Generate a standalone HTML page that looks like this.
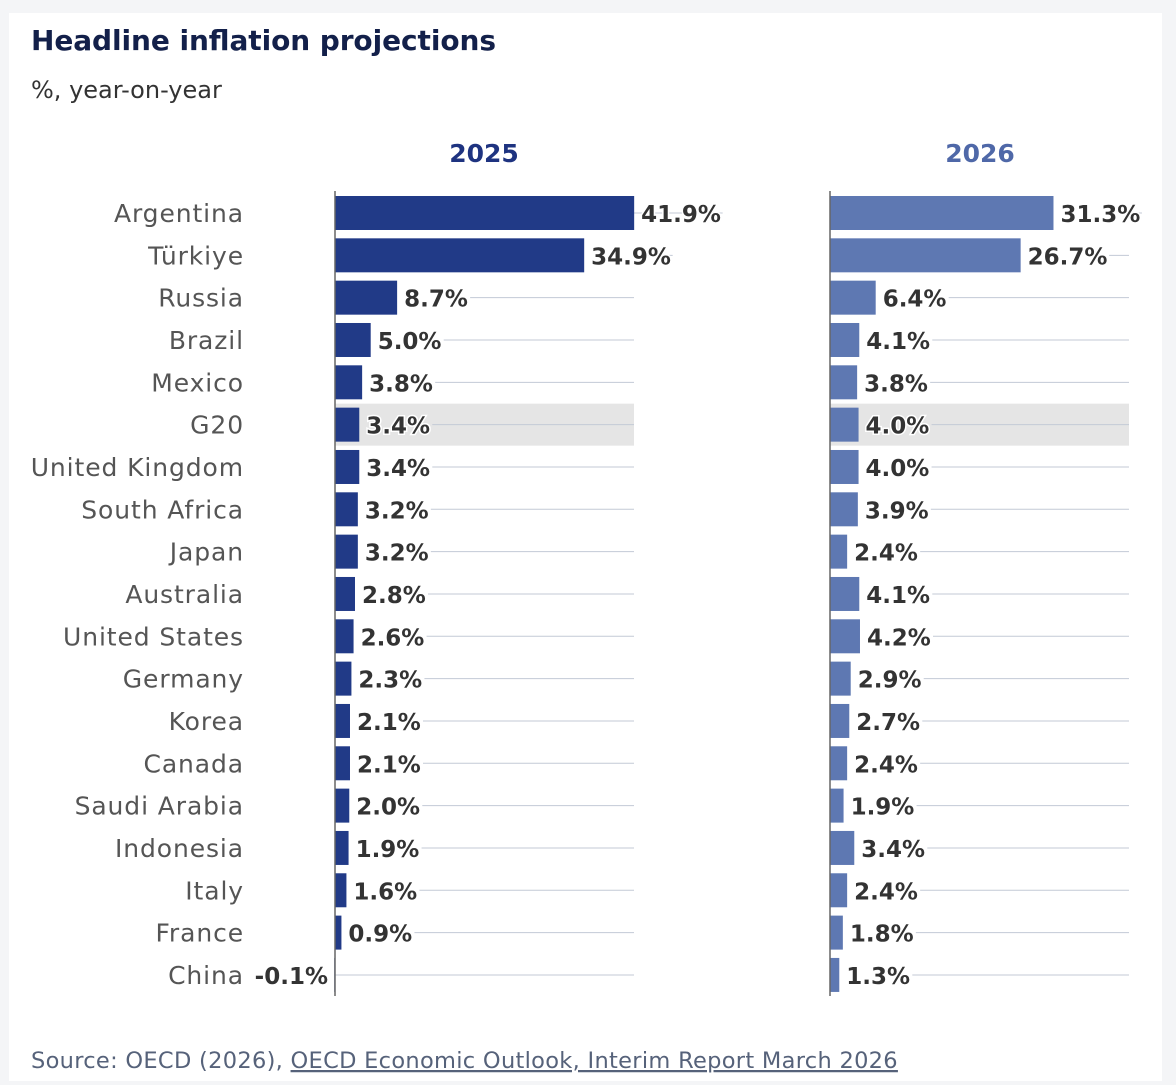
<!DOCTYPE html>
<html><head><meta charset="utf-8"><style>
body{margin:0;background:#f4f5f7;font-family:"DejaVu Sans","Liberation Sans",sans-serif;}
#card{position:absolute;left:9px;top:13px;width:1153px;height:1068px;background:#fff;}
svg text{font-family:"DejaVu Sans","Liberation Sans",sans-serif;}
</style></head><body>
<div id="card"></div>
<svg id="chart" width="1176" height="1085" style="position:absolute;left:0;top:0">
<text x="31" y="50" font-size="28" font-weight="bold" fill="#13204a" textLength="465">Headline inflation projections</text>
<text x="31" y="98" font-size="24" fill="#333">%, year-on-year</text>
<text x="484" y="162" font-size="25" font-weight="bold" fill="#1e3380" text-anchor="middle">2025</text>
<text x="980" y="162" font-size="25" font-weight="bold" fill="#4f68a8" text-anchor="middle">2026</text>
<g id="plot"></g>
<text x="31" y="1068" font-size="22.5" fill="#56627a" letter-spacing="0.3">Source: OECD (2026), <tspan text-decoration="underline">OECD Economic Outlook, Interim Report March 2026</tspan></text>
</svg>
<script>
const countries=["Argentina","Türkiye","Russia","Brazil","Mexico","G20","United Kingdom","South Africa","Japan","Australia","United States","Germany","Korea","Canada","Saudi Arabia","Indonesia","Italy","France","China"];
const values2025=[41.9,34.9,8.7,5.0,3.8,3.4,3.4,3.2,3.2,2.8,2.6,2.3,2.1,2.1,2.0,1.9,1.6,0.9,-0.1];
const values2026=[31.3,26.7,6.4,4.1,3.8,4.0,4.0,3.9,2.4,4.1,4.2,2.9,2.7,2.4,1.9,3.4,2.4,1.8,1.3];
const highlight="G20";
const NS="http://www.w3.org/2000/svg";
const g=document.getElementById('plot');
const rowY=i=>213+i*42.33;
const scale=v=>v*7.14;
const panels=[{x0:335,vals:values2025,color:"#213a87",name:"2025"},{x0:830,vals:values2026,color:"#5e78b2",name:"2026"}];
const W=299,BH=34;
function el(t,a){const e=document.createElementNS(NS,t);for(const k in a)e.setAttribute(k,a[k]);g.appendChild(e);return e;}
countries.forEach((c,i)=>{
  const y=rowY(i);
  const t=el('text',{x:244,y:y+9,'font-size':25,fill:'#555','text-anchor':'end','letter-spacing':0.9});
  t.textContent=c;
  
  
  panels.forEach(p=>{
    if(c===highlight){const h=el('rect',{x:p.x0,y:y-21,width:W,height:42,fill:'#e5e5e5'});
      
      }
    const v=p.vals[i];const w=scale(v);
    const endX=p.x0+Math.max(w,0);
    const lblX=v<0?p.x0-7:endX+7;
    const txt=v.toFixed(1)+'%';
    const lw=txt.length*15.5+4;
    const gl=el('line',{x1:v<0?p.x0:lblX+lw,x2:p.x0+W,y1:y,y2:y,stroke:'#c3cad6','stroke-width':1});
    
    
    const b=el('rect',{x:v<0?p.x0+w:p.x0,y:y-BH/2,width:Math.abs(w),height:BH,fill:p.color});
    
    
    const l=el('text',{x:lblX,y:y+9,'font-size':23,'font-weight':'bold',fill:'#333','text-anchor':v<0?'end':'start',stroke:'#fff','stroke-width':3,'paint-order':'stroke'});
    l.textContent=txt;
    
    
  });
});
panels.forEach(p=>{const a=el('line',{x1:p.x0,x2:p.x0,y1:191,y2:996,stroke:'#666','stroke-width':1.5});
  
  });
</script>
</body></html>
